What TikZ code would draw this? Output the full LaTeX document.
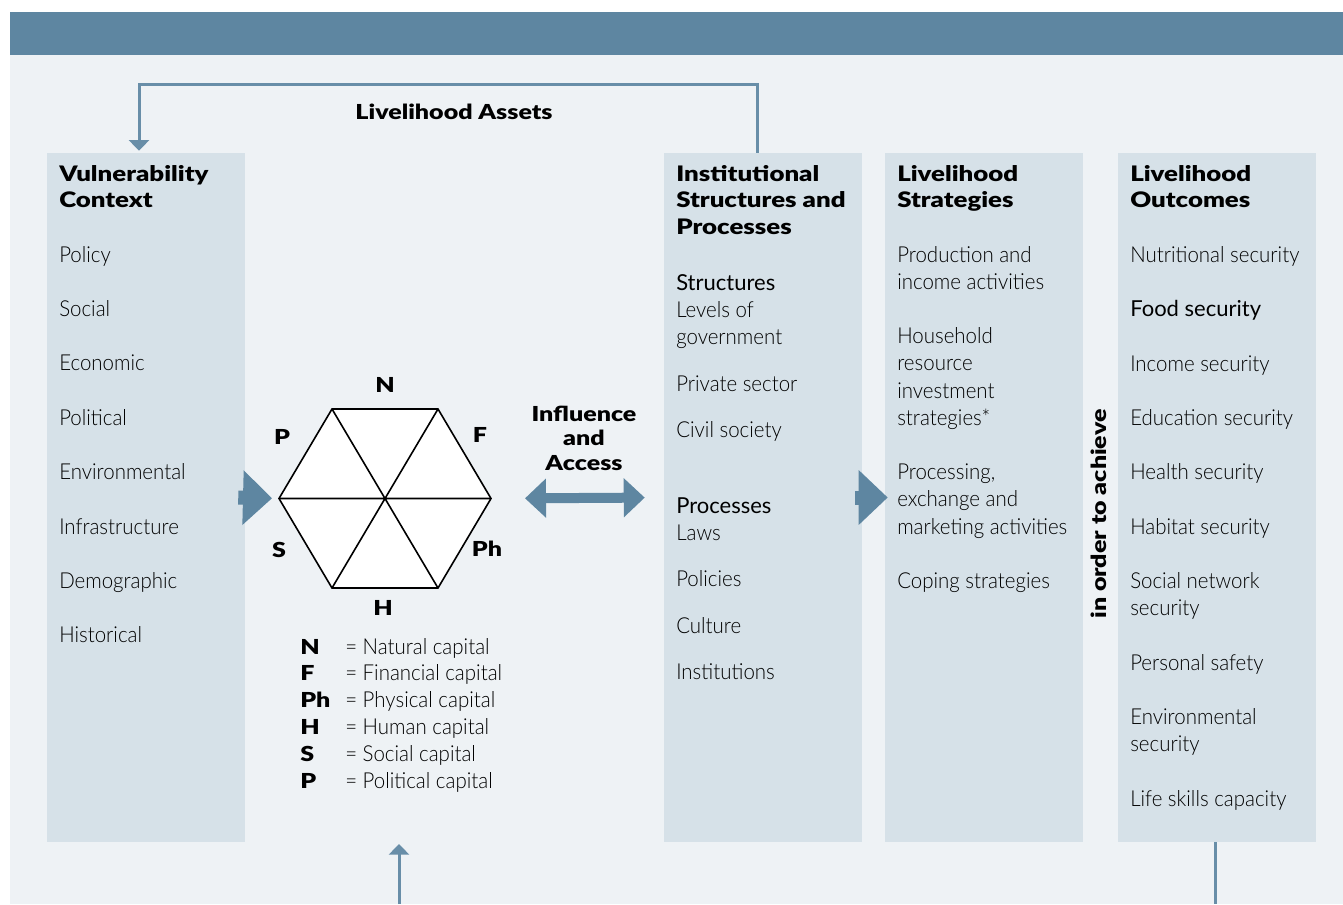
\documentclass[tikz,border=0pt]{standalone}
\usepackage{fontspec}
\setmainfont{Lato}[UprightFont=* Light, FakeStretch=0.93]
\newfontfamily\regfont{Lato}[FakeStretch=1.0]
\newfontfamily\heavyfont{Lato}[UprightFont=* Black, FakeStretch=1.21]
\usetikzlibrary{arrows.meta}
\usetikzlibrary{calc}

\definecolor{bandblue}{RGB}{94,134,161}
\definecolor{paleback}{RGB}{238,242,245}
\definecolor{colfill}{RGB}{214,225,232}
\definecolor{linkblue}{RGB}{104,142,168}

\tikzset{
  colbox/.style={fill=colfill, minimum width=148.5pt, minimum height=516.75pt, inner sep=0pt},
  heading/.style={anchor=base west, inner sep=0pt, font=\fontsize{16}{19}\heavyfont},
  item/.style={anchor=base west, inner sep=0pt, font=\fontsize{16.5}{20}\selectfont},
  capletter/.style={inner sep=0pt, font=\fontsize{15.5}{18}\heavyfont},
  hexline/.style={draw=black, fill=white, line width=1.2pt, line join=miter},
  link/.style={draw=linkblue, line width=2.25pt, -{Triangle[length=8pt,width=15pt]}},
  fatarrow/.style={draw=bandblue, line width=10.5pt, -{Triangle[length=21.75pt,width=39.75pt]}},
  twoway/.style={draw=bandblue, line width=7.5pt, {Triangle[length=15.75pt,width=28.5pt]}-{Triangle[length=15.75pt,width=28.5pt]}},
}

\begin{document}
\begin{tikzpicture}[x=0.75pt,y=0.75pt,yscale=-1,xscale=1]
\useasboundingbox (0,0) rectangle (1343,904);

% background and title band
\fill[paleback] (10,55) rectangle (1343,904);
\fill[bandblue] (10,12) rectangle (1343,55);

% the four columns
\node[colbox] (vuln) at (146,497.5) {};
\node[colbox] (inst) at (763,497.5) {};
\node[colbox] (strat) at (984,497.5) {};
\node[colbox] (outc) at (1217,497.5) {};

% Vulnerability Context
\node[heading] (vuln-h1) at (59,181) {Vulnerability};
\node[heading] (vuln-h2) at (59,207) {Context};
\foreach \t [count=\i] in {Policy,Social,Economic,Political,Environmental,Infrastructure,Demographic,Historical}
  \node[item] (vuln-\i) at (59,262+54.4*\i-54.4) {\t};

% Institutional Structures and Processes
\node[heading] (inst-h1) at (676,181) {Institutional};
\node[heading] (inst-h2) at (676,207) {Structures and};
\node[heading] (inst-h3) at (676,234) {Processes};
\node[item, font=\fontsize{16.5}{20}\regfont] (inst-s) at (676,290) {Structures};
\node[item, font=\fontsize{16.5}{20}\regfont] (inst-p) at (676,513) {Processes};
\foreach \y/\t [count=\i] in {317/Levels of,344.5/government,391/Private sector,437/Civil society,540/Laws,586/Policies,633/Culture,679/Institutions}
  \node[item] (inst-\i) at (676,\y) {\t};

% Livelihood Strategies
\node[heading] (strat-h1) at (897,181) {Livelihood};
\node[heading] (strat-h2) at (897,207) {Strategies};
\foreach \y/\t [count=\i] in {262/Production and,289/income activities,343/Household,370.5/resource,398/investment,425/strategies*,479/{Processing,},506.5/exchange and,534/marketing activities,588/Coping strategies}
  \node[item] (strat-\i) at (897,\y) {\t};

% Livelihood Outcomes
\node[heading] (outc-h1) at (1130,181) {Livelihood};
\node[heading] (outc-h2) at (1130,207) {Outcomes};
\node[item, font=\fontsize{16.5}{20}\regfont] (outc-f) at (1130,316) {Food security};
\foreach \y/\t [count=\i] in {262/Nutritional security,371/Income security,425/Education security,479/Health security,534/Habitat security,588/Social network,615/security,670/Personal safety,724/Environmental,751/security,806/Life skills capacity}
  \node[item] (outc-\i) at (1130,\y) {\t};

\node[capletter, rotate=90] (achieve) at (1099,514) {in order to achieve};

% asset hexagon
\coordinate (hexW) at (279,498.5);
\coordinate (hexE) at (491,498.5);
\coordinate (hexNW) at (332,409);
\coordinate (hexNE) at (438,409);
\coordinate (hexSW) at (332,588);
\coordinate (hexSE) at (438,588);
\draw[hexline] (hexW) -- (hexNW) -- (hexNE) -- (hexE) -- (hexSE) -- (hexSW) -- cycle;
\draw[hexline] (hexW) -- (hexE) (hexNW) -- (hexSE) (hexNE) -- (hexSW);

\node[capletter] (capN) at (385,385) {N};
\node[capletter] (capP) at (282,437) {P};
\node[capletter] (capF) at (480,435) {F};
\node[capletter] (capS) at (279,550) {S};
\node[capletter] (capPh) at (487,549) {Ph};
\node[capletter] (capH) at (383,608) {H};

% key to the hexagon
\foreach \k/\t [count=\i] in {N/Natural,F/Financial,Ph/Physical,H/Human,S/Social,P/Political} {
  \node[capletter, anchor=base west] (key-\i) at (300,654+26.8*\i-26.8) {\k};
  \node[item] (keytxt-\i) at (345,654+26.8*\i-26.8) {= \t{} capital};
}

\node[capletter, anchor=base] (assets) at (454,119) {Livelihood Assets};
\node[capletter, anchor=base] (infl-1) at (584,421) {Influence};
\node[capletter, anchor=base] (infl-2) at (584,445) {and};
\node[capletter, anchor=base] (infl-3) at (584,470) {Access};

% connectors
\coordinate (assetsturn) at ($(vuln.north)+(-7,-68)$);
\draw[link] ($(inst.north)+(-6,0)$) |- (assetsturn) -- ($(vuln.north)+(-7,-2)$);
\coordinate (feedin) at (399,904);
\coordinate (feedtip) at (399,844);
\draw[link] (feedin) -- (feedtip);
\coordinate (outcout) at (1215,904);
\draw[draw=linkblue, line width=2.25pt] ($(outc.south)+(-2,0)$) -- (outcout);

\draw[fatarrow, shorten >=5.25pt] ($(vuln.east)+(-7,0)$) -- (hexW);
\draw[fatarrow] ($(inst.east)+(-7,0)$) -- ($(strat.west)+(3,0)$);
\draw[twoway, shorten <=25.5pt, shorten >=14.25pt] (hexE) -- (inst.west);

\end{tikzpicture}
\end{document}
